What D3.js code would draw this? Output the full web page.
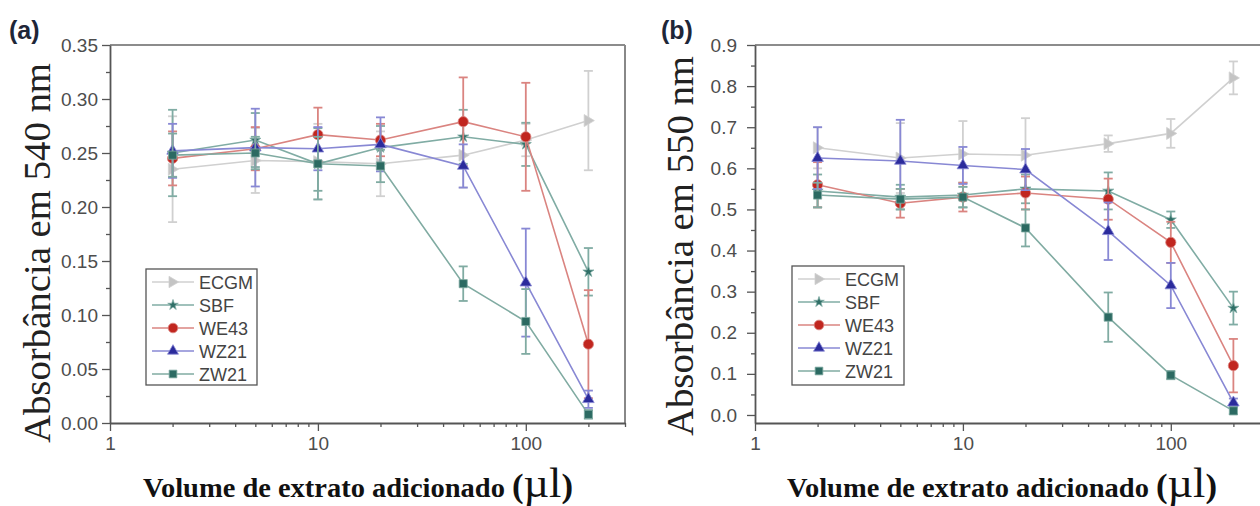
<!DOCTYPE html>
<html>
<head>
<meta charset="utf-8">
<script src="https://cdn.jsdelivr.net/npm/d3@7"></script>
<style>
  html, body { margin: 0; padding: 0; background: #fff; }
  svg { display: block; }
</style>
</head>
<body>
<svg id="chart" width="1260" height="506"></svg>
<script>
// Extract volumes (µl)
const volumes = [2, 5, 10, 20, 50, 100, 200];
const seriesNames = ["ECGM", "SBF", "WE43", "WZ21", "ZW21"];

// Panel (a): absorbance at 540 nm, mean and error
const ecgmA = [0.235, 0.243, 0.242, 0.240, 0.248, 0.262, 0.280];
const ecgmAErr = [0.049, 0.030, 0.035, 0.030, 0.030, 0.015, 0.046];
const sbfA = [0.250, 0.262, 0.240, 0.255, 0.265, 0.258, 0.140];
const sbfAErr = [0.040, 0.025, 0.033, 0.020, 0.025, 0.020, 0.022];
const we43A = [0.245, 0.254, 0.267, 0.262, 0.279, 0.265, 0.073];
const we43AErr = [0.025, 0.020, 0.025, 0.015, 0.041, 0.050, 0.050];
const wz21A = [0.252, 0.255, 0.254, 0.258, 0.238, 0.130, 0.022];
const wz21AErr = [0.025, 0.036, 0.020, 0.025, 0.020, 0.050, 0.008];
const zw21A = [0.248, 0.250, 0.240, 0.238, 0.129, 0.094, 0.008];
const zw21AErr = [0.020, 0.015, 0.025, 0.015, 0.016, 0.030, 0.004];

// Panel (b): absorbance at 550 nm, mean and error
const ecgmB = [0.650, 0.625, 0.635, 0.632, 0.660, 0.685, 0.820];
const ecgmBErr = [0.050, 0.085, 0.080, 0.090, 0.020, 0.035, 0.040];
const sbfB = [0.545, 0.530, 0.535, 0.550, 0.545, 0.475, 0.260];
const sbfBErr = [0.040, 0.030, 0.030, 0.035, 0.045, 0.020, 0.040];
const we43B = [0.560, 0.515, 0.530, 0.540, 0.525, 0.420, 0.120];
const we43BErr = [0.055, 0.035, 0.035, 0.040, 0.050, 0.050, 0.065];
const wz21B = [0.625, 0.618, 0.607, 0.597, 0.447, 0.315, 0.030];
const wz21BErr = [0.075, 0.100, 0.045, 0.050, 0.070, 0.055, 0.010];
const zw21B = [0.535, 0.525, 0.530, 0.455, 0.238, 0.097, 0.010];
const zw21BErr = [0.030, 0.025, 0.025, 0.045, 0.060, 0.010, 0.008];

// Axis ticks
const xMajorTicks = [1, 10, 100];
const xMinorTicks = [2, 3, 4, 5, 6, 7, 8, 9, 20, 30, 40, 50, 60, 70, 80, 90, 200, 300];
const yTicksA = [0, 0.05, 0.10, 0.15, 0.20, 0.25, 0.30, 0.35];
const yMinorA = [0.025, 0.075, 0.125, 0.175, 0.225, 0.275, 0.325];
const yTicksB = [0, 0.1, 0.2, 0.3, 0.4, 0.5, 0.6, 0.7, 0.8, 0.9];
const yMinorB = [0.05, 0.15, 0.25, 0.35, 0.45, 0.55, 0.65, 0.75, 0.85];

// Series styles: line colour, marker colour, marker shape
const styles = {
  ECGM: { line: "#d0d0d0", mark: "#c4c4c4", shape: "tri-right" },
  SBF:  { line: "#80aca4", mark: "#2f6f67", shape: "star" },
  WE43: { line: "#da8480", mark: "#c1261f", shape: "circle" },
  WZ21: { line: "#8888d4", mark: "#2b2b9c", shape: "triangle" },
  ZW21: { line: "#80aba2", mark: "#2c6a62", shape: "square" }
};

const svg = d3.select("#chart");

function markerPath(shape, scale) {
  const s = scale || 1;
  if (shape === "tri-right") {
    const r = 6 * s;
    return `M${-r * 0.7},${-r} L${r},0 L${-r * 0.7},${r} Z`;
  }
  const sym = {
    star: [d3.symbolStar, 38],
    circle: [d3.symbolCircle, 82],
    triangle: [d3.symbolTriangle, 58],
    square: [d3.symbolSquare, 66]
  }[shape];
  return d3.symbol(sym[0], sym[1] * s * s)();
}

function drawPanel(cfg) {
  const g = svg.append("g");
  const x = d3.scaleLog().domain([1, 300]).range([cfg.left, cfg.left + 515]);
  const y = d3.scaleLinear().domain(cfg.yDomain).range([cfg.bottom, cfg.top]);
  const axisColor = "#555";

  // frame: top and right borders
  g.append("line").attr("x1", cfg.left).attr("x2", cfg.left + 515)
    .attr("y1", cfg.top).attr("y2", cfg.top)
    .attr("stroke", "#666").attr("stroke-width", 1.6);
  g.append("line").attr("x1", cfg.left + 515).attr("x2", cfg.left + 515)
    .attr("y1", cfg.top).attr("y2", cfg.bottom)
    .attr("stroke", "#888").attr("stroke-width", 2);

  // y axis
  g.append("g").attr("transform", `translate(${cfg.left},0)`)
    .call(d3.axisLeft(y).tickValues(cfg.yTicks).tickFormat(d3.format(cfg.yFmt))
      .tickSize(8).tickSizeOuter(0).tickPadding(cfg.yPad));
  g.append("g").attr("transform", `translate(${cfg.left},0)`)
    .call(d3.axisLeft(y).tickValues(cfg.yMinor).tickFormat("").tickSize(4).tickSizeOuter(0))
    .call(a => a.select(".domain").remove());

  // x axis
  g.append("g").attr("transform", `translate(0,${cfg.bottom})`)
    .call(d3.axisBottom(x).tickValues(xMajorTicks).tickFormat(d3.format("d"))
      .tickSize(8).tickSizeOuter(0).tickPadding(6));
  g.append("g").attr("transform", `translate(0,${cfg.bottom})`)
    .call(d3.axisBottom(x).tickValues(xMinorTicks).tickFormat("").tickSize(4).tickSizeOuter(0))
    .call(a => a.select(".domain").remove());

  g.selectAll(".domain").attr("stroke", axisColor).attr("stroke-width", 1.8);
  g.selectAll(".tick line").attr("stroke", axisColor).attr("stroke-width", 1.3);
  g.selectAll(".tick text")
    .attr("font-family", "'Liberation Sans', Arial, sans-serif")
    .attr("font-size", 19).attr("fill", "#4d4d4d");

  // series: lines, error bars, markers
  cfg.series.forEach(sr => {
    const st = styles[sr.name];
    const pts = volumes.map((v, i) => ({ x: v, y: sr.values[i], e: sr.errors[i] }));
    const sg = g.append("g");
    sg.append("path")
      .attr("d", d3.line().x(d => x(d.x)).y(d => y(d.y))(pts))
      .attr("fill", "none").attr("stroke", st.line).attr("stroke-width", 1.6);
    const eb = sg.selectAll(".err").data(pts).enter().append("g")
      .attr("stroke", st.line).attr("stroke-width", 1.8);
    eb.append("line")
      .attr("x1", d => x(d.x)).attr("x2", d => x(d.x))
      .attr("y1", d => y(d.y - d.e)).attr("y2", d => y(d.y + d.e));
    eb.append("line")
      .attr("x1", d => x(d.x) - 4.5).attr("x2", d => x(d.x) + 4.5)
      .attr("y1", d => y(d.y + d.e)).attr("y2", d => y(d.y + d.e));
    eb.append("line")
      .attr("x1", d => x(d.x) - 4.5).attr("x2", d => x(d.x) + 4.5)
      .attr("y1", d => y(d.y - d.e)).attr("y2", d => y(d.y - d.e));
    sg.selectAll(".mk").data(pts).enter().append("path")
      .attr("d", markerPath(st.shape))
      .attr("transform", d => `translate(${x(d.x)},${y(d.y)})`)
      .attr("fill", st.mark).attr("stroke", st.line).attr("stroke-width", 0.8);
  });

  // legend
  const lg = g.append("g");
  lg.append("rect").attr("x", cfg.legend.x).attr("y", cfg.legend.y)
    .attr("width", cfg.legend.w).attr("height", cfg.legend.h)
    .attr("fill", "#fff").attr("stroke", "#555").attr("stroke-width", 1.3);
  seriesNames.forEach((name, i) => {
    const st = styles[name];
    const ly = cfg.legend.y + 13 + i * 23;
    const lx = cfg.legend.x + 6;
    lg.append("line").attr("x1", lx).attr("x2", lx + 42)
      .attr("y1", ly).attr("y2", ly).attr("stroke", st.line).attr("stroke-width", 1.6);
    lg.append("path").attr("d", markerPath(st.shape, 0.95))
      .attr("transform", `translate(${lx + 21},${ly})`)
      .attr("fill", st.mark).attr("stroke", st.line).attr("stroke-width", 0.8);
    lg.append("text").attr("x", lx + 47).attr("y", ly + 6.5)
      .attr("font-family", "'Liberation Sans', Arial, sans-serif")
      .attr("font-size", 18).attr("fill", "#444").text(name);
  });

  // axis titles
  g.append("text")
    .attr("transform", `translate(${cfg.yTitleX},${cfg.yTitleY}) rotate(-90)`)
    .attr("text-anchor", "middle")
    .attr("font-family", "'Liberation Serif', 'Times New Roman', serif")
    .attr("font-size", 38).attr("fill", "#222")
    .attr("textLength", 380).attr("lengthAdjust", "spacingAndGlyphs")
    .text(cfg.yTitle);

  const xt = g.append("text")
    .attr("x", cfg.xTitleX).attr("y", 497)
    .attr("font-family", "'Liberation Serif', 'Times New Roman', serif")
    .attr("fill", "#111")
    .attr("textLength", 430).attr("lengthAdjust", "spacingAndGlyphs");
  xt.append("tspan").attr("font-size", 27).attr("font-weight", "bold").text("Volume de extrato adicionado ");
  xt.append("tspan").attr("font-size", 33).attr("font-weight", "bold").text("(");
  xt.append("tspan").attr("font-size", 42).text("µl");
  xt.append("tspan").attr("font-size", 33).attr("font-weight", "bold").text(")");

  // panel tag
  g.append("text").attr("x", cfg.tagX).attr("y", 39)
    .attr("font-family", "'Liberation Sans', Arial, sans-serif")
    .attr("font-size", 25).attr("font-weight", "bold").attr("fill", "#1e2638")
    .text(cfg.tag);
}

drawPanel({
  tag: "(a)", tagX: 9,
  left: 110, top: 45, bottom: 423,
  yDomain: [0, 0.35], yTicks: yTicksA, yMinor: yMinorA, yFmt: ".2f", yPad: 4,
  yTitle: "Absorbância em 540 nm", yTitleX: 50, yTitleY: 253,
  xTitleX: 143,
  legend: { x: 146, y: 269, w: 111, h: 116 },
  series: [
    { name: "ECGM", values: ecgmA, errors: ecgmAErr },
    { name: "SBF", values: sbfA, errors: sbfAErr },
    { name: "WE43", values: we43A, errors: we43AErr },
    { name: "WZ21", values: wz21A, errors: wz21AErr },
    { name: "ZW21", values: zw21A, errors: zw21AErr }
  ]
});

drawPanel({
  tag: "(b)", tagX: 661,
  left: 755, top: 45, bottom: 423,
  yDomain: [-0.0195, 0.9], yTicks: yTicksB, yMinor: yMinorB, yFmt: ".1f", yPad: 10,
  yTitle: "Absorbância em 550 nm", yTitleX: 693, yTitleY: 246,
  xTitleX: 787,
  legend: { x: 792, y: 266, w: 112, h: 119 },
  series: [
    { name: "ECGM", values: ecgmB, errors: ecgmBErr },
    { name: "SBF", values: sbfB, errors: sbfBErr },
    { name: "WE43", values: we43B, errors: we43BErr },
    { name: "WZ21", values: wz21B, errors: wz21BErr },
    { name: "ZW21", values: zw21B, errors: zw21BErr }
  ]
});
</script>
</body>
</html>
